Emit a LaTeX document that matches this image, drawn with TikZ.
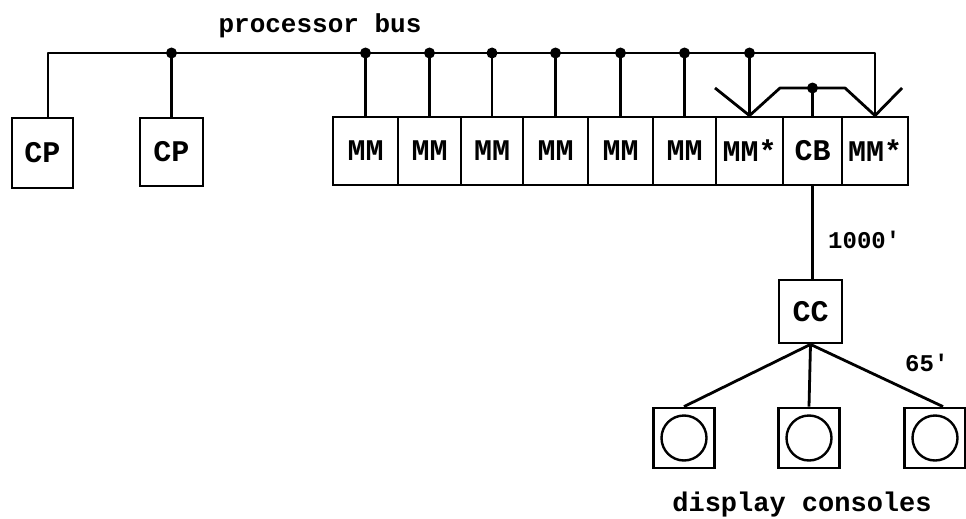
\documentclass[tikz,border=0pt]{standalone}
\usepackage{fontspec}
\setmonofont{Liberation Mono}
\begin{document}
\begin{tikzpicture}[x=1pt,y=-1pt,
  unit/.style={draw, line width=2.8pt, inner sep=0pt, minimum height=68pt,
    font=\ttfamily\bfseries\fontsize{30}{32}\selectfont},
  console/.style={draw, line width=2.8pt, inner sep=0pt, minimum width=61pt, minimum height=60pt},
  ring/.style={draw, circle, line width=2.4pt, inner sep=0pt, minimum size=45pt},
  wire/.style={line width=2.8pt, line join=round},
  tap/.style={circle, fill, inner sep=0pt, minimum size=11pt},
  lbl/.style={font=\ttfamily\bfseries\fontsize{24}{28}\selectfont, inner sep=0pt}]
\useasboundingbox (0,0) rectangle (966,519);
% units
\node[unit, minimum width=61pt, minimum height=70pt] (cp1) at (42.5,153) {CP};
\node[unit, minimum width=63pt] (cp2) at (171.5,152) {CP};
\node[unit, minimum width=65pt] (mm1) at (365.5,151) {MM};
\node[unit, minimum width=63pt] (mm2) at (429.5,151) {MM};
\node[unit, minimum width=62pt] (mm3) at (492,151) {MM};
\node[unit, minimum width=65pt] (mm4) at (555.5,151) {MM};
\node[unit, minimum width=65pt] (mm5) at (620.5,151) {MM};
\node[unit, minimum width=63pt] (mm6) at (684.5,151) {MM};
\node[unit, minimum width=67pt] (mm7) at (749.5,151) {MM*};
\node[unit, minimum width=59pt] (cb) at (812.5,151) {CB};
\node[unit, minimum width=66pt] (mm9) at (875,151) {MM*};
\node[unit, minimum width=63pt, minimum height=63pt] (cc) at (810.5,311.5) {CC};
% consoles
\node[console] (con1) at (684,438) {};
\node[console] (con2) at (809,438) {};
\node[console] (con3) at (935,438) {};
\node[ring] (r1) at (con1) {};
\node[ring] (r2) at (con2) {};
\node[ring] (r3) at (con3) {};
% bus
\coordinate (bL) at (48,53);
\coordinate (bR) at (875,53);
\draw[wire] (cp1.north -| bL) -- (bL) -- (bR) -- (mm9.north);
\foreach \n in {cp2,mm1,mm2,mm3,mm4,mm5,mm6,mm7}{
  \draw[wire] (\n.north) -- (\n.north |- bL);
  \node[tap] at (\n.north |- bL) {};
}
% CB link lines
\coordinate (v1) at (715,88);
\coordinate (v2) at (780,88);
\coordinate (v3) at (845,88);
\coordinate (v4) at (902,88);
\draw[wire] (v1) -- (mm7.north) -- (v2) -- (v3) -- (mm9.north) -- (v4);
\coordinate (cbt) at (cb.north |- v2);
\draw[wire] (cb.north) -- (cbt);
\node[tap] at (cbt) {};
% CB to CC
\draw[wire] (cb.south) -- (cb.south |- cc.north);
\draw[wire] (cc.south) -- (con1.north);
\draw[wire] (cc.south) -- (con2.north);
\draw[wire] (cc.south) -- ([xshift=8pt]con3.north);
% labels
\node[lbl, font=\ttfamily\bfseries\fontsize{26}{30}\selectfont] (pb) at (320,26) {processor bus};
\node[lbl, anchor=west] (l1000) at (828,240) {1000'};
\node[lbl, anchor=west] (l65) at (905,363) {65'};
\node[lbl, font=\ttfamily\bfseries\fontsize{27}{30}\selectfont] (dc) at (802,505) {display consoles};
\end{tikzpicture}
\end{document}
